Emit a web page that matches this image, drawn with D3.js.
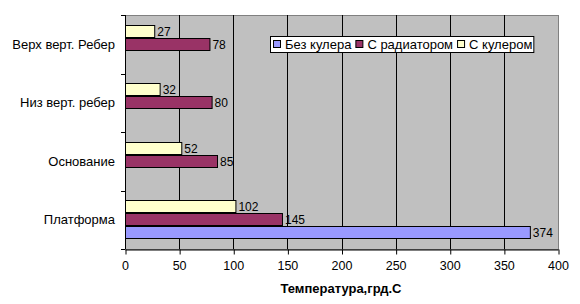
<!DOCTYPE html>
<html><head><meta charset="utf-8">
<script src="https://cdn.jsdelivr.net/npm/d3@7"></script>
<style>body{margin:0;background:#fff}svg{display:block}text{font-family:"Liberation Sans",Arial,sans-serif}</style>
</head><body>
<script>
const categories = ["Верх верт. Ребер", "Низ верт. ребер", "Основание", "Платформа"];
const seriesNames = ["С кулером", "С радиатором", "Без кулера"];
const sKuler = [27, 32, 52, 102];
const sRadiator = [78, 80, 85, 145];
const sBezKulera = [null, null, null, 374];
const colors = ["#FFFFCC", "#993366", "#9999FF"];
const xTicks = [0, 50, 100, 150, 200, 250, 300, 350, 400];
const legendOrder = ["Без кулера", "С радиатором", "С кулером"];
const xTitle = "Температура,грд.С";

const W = 580, H = 304;
const m = {left:125, right:558, top:15, bottom:249};
const svg = d3.select("body").append("svg").attr("width", W).attr("height", H);

const x = d3.scaleLinear().domain([0, 400]).range([m.left, m.right]);
const y = d3.scaleBand().domain(categories).range([m.top, m.bottom]).paddingInner(0).paddingOuter(0);
const inner = d3.scaleBand().domain(seriesNames).range([0, y.bandwidth()]).paddingOuter(0.75).paddingInner(0);

svg.append("rect").attr("x", m.left).attr("y", m.top).attr("width", m.right - m.left).attr("height", m.bottom - m.top)
  .attr("fill", "#C0C0C0").attr("stroke", "#808080").attr("stroke-width", 1)
  .attr("transform", "translate(0.5,0.5)");

// gridlines
svg.append("g").selectAll("line").data(xTicks.slice(1, -1)).join("line")
  .attr("x1", d => Math.round(x(d)) + 0.5).attr("x2", d => Math.round(x(d)) + 0.5)
  .attr("y1", m.top).attr("y2", m.bottom).attr("stroke", "#000");

const series = [sKuler, sRadiator, sBezKulera];
const g = svg.append("g");
series.forEach((vals, si) => {
  categories.forEach((c, ci) => {
    const v = vals[ci];
    if (v == null) return;
    const yy = Math.round(y(c) + inner(seriesNames[si]));
    const h = Math.round(inner.bandwidth()) - 1;
    g.append("rect").attr("x", x(0) + 0.5).attr("y", yy + 0.5)
      .attr("width", x(v) - x(0)).attr("height", h)
      .attr("fill", colors[si]).attr("stroke", "#000");
    g.append("text").attr("x", x(v) + 3).attr("y", yy + h / 2 + 0.5).attr("dy", "0.35em")
      .attr("font-size", 12).text(v);
  });
});

// y axis
const yAxis = svg.append("g");
yAxis.append("line").attr("x1", m.left + 0.5).attr("x2", m.left + 0.5).attr("y1", m.top).attr("y2", m.bottom).attr("stroke", "#000");
const yTickPos = categories.map(c => y(c)).concat([m.bottom]);
yAxis.selectAll("line.t").data(yTickPos).join("line").attr("class", "t")
  .attr("x1", m.left - 4).attr("x2", m.left).attr("y1", d => Math.round(d) + 0.5).attr("y2", d => Math.round(d) + 0.5).attr("stroke", "#000");
yAxis.selectAll("text").data(categories).join("text")
  .attr("x", m.left - 10).attr("y", d => y(d) + y.bandwidth() / 2).attr("dy", "0.35em")
  .attr("text-anchor", "end").attr("font-size", 13).text(d => d);

// x axis
const xa = svg.append("g").attr("transform", `translate(0,${m.bottom + 0.5})`)
  .call(d3.axisBottom(x).tickValues(xTicks).tickSize(5).tickSizeOuter(0));
xa.select(".domain").attr("stroke", "#000");
xa.selectAll(".tick line").attr("stroke", "#000").attr("transform", "translate(0.5,0)");
xa.selectAll(".tick text").attr("font-size", 12.5).attr("font-family", "Liberation Sans, Arial, sans-serif").attr("fill", "#000").attr("y", 12);

svg.append("text").attr("x", 341).attr("y", 293).attr("text-anchor", "middle")
  .attr("font-size", 13).attr("font-weight", "bold").text(xTitle);

// legend
const lg = svg.append("g");
const lx = 270, ly = 36, lh = 16;
let cx = lx + 3;
legendOrder.forEach(d => {
  const si = seriesNames.indexOf(d);
  lg.append("rect").attr("x", cx + 0.5).attr("y", ly + 4.5).attr("width", 7).attr("height", 7).attr("fill", colors[si]).attr("stroke", "#000");
  const t = lg.append("text").attr("x", cx + 12).attr("y", ly + lh / 2 + 0.5).attr("dy", "0.35em").attr("font-size", 13).text(d);
  cx += 12 + t.node().getComputedTextLength() + 4;
});
lg.insert("rect", ":first-child").attr("x", lx + 0.5).attr("y", ly + 0.5).attr("width", cx - lx - 3).attr("height", lh).attr("fill", "#fff").attr("stroke", "#000");
</script>
</body></html>
